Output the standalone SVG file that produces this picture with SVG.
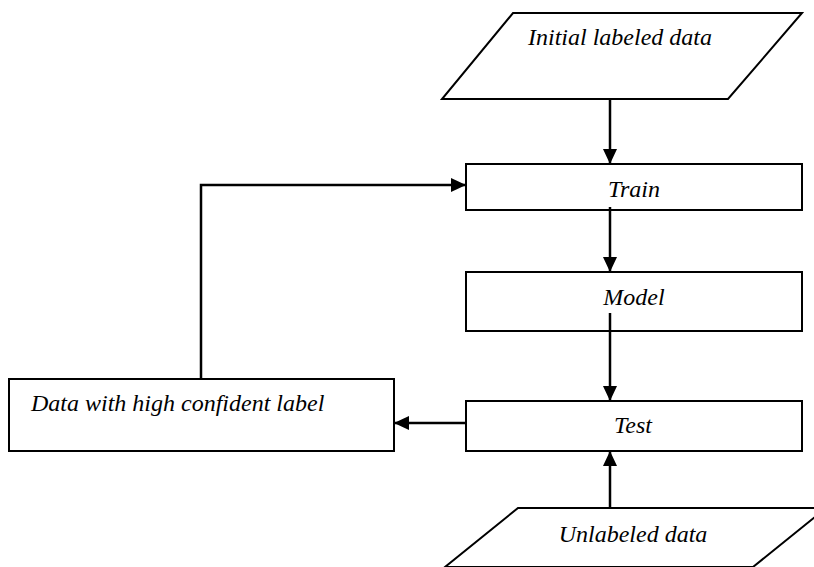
<svg xmlns="http://www.w3.org/2000/svg" width="814" height="567" viewBox="0 0 814 567">
<style>
.box{fill:#fff;stroke:#000;stroke-width:2}
.lbl{font-family:"Liberation Serif","Times New Roman",serif;font-style:italic;font-size:24px;fill:#000}
.c{text-anchor:middle}
.conn{fill:none;stroke:#000;stroke-width:2.5}
</style>
<defs>
<marker id="ah" markerUnits="userSpaceOnUse" markerWidth="16" markerHeight="14" refX="15" refY="7" orient="auto">
<path d="M0,0 L15,7 L0,14 z" fill="#000"/>
</marker>
</defs>
<rect width="814" height="567" fill="#fff"/>
<g id="initial">
<polygon class="box" points="513,13 802,13 728,99 442,99"/>
<text class="lbl c" x="620" y="45">Initial labeled data</text>
</g>
<g id="train">
<rect class="box" x="466" y="164" width="336" height="46"/>
<text class="lbl c" x="634" y="197">Train</text>
</g>
<g id="model">
<rect class="box" x="466" y="272" width="336" height="59"/>
<text class="lbl c" x="634" y="305">Model</text>
</g>
<g id="test">
<rect class="box" x="466" y="401" width="336" height="50"/>
<text class="lbl c" x="633" y="433">Test</text>
</g>
<g id="unlabeled">
<polygon class="box" points="518,508 826,508 753,567 445,567"/>
<text class="lbl c" x="633" y="542">Unlabeled data</text>
</g>
<g id="highconf">
<rect class="box" x="9" y="379" width="385" height="72"/>
<text class="lbl" x="31" y="411">Data with high confident label</text>
</g>
<g id="connectors">
<line class="conn" x1="610" y1="99" x2="610" y2="164" marker-end="url(#ah)"/>
<line class="conn" x1="610" y1="207" x2="610" y2="272" marker-end="url(#ah)"/>
<line class="conn" x1="610" y1="313" x2="610" y2="401" marker-end="url(#ah)"/>
<line class="conn" x1="610" y1="508" x2="610" y2="451" marker-end="url(#ah)"/>
<line class="conn" x1="466" y1="423" x2="394" y2="423" marker-end="url(#ah)"/>
<polyline class="conn" points="201,379 201,185 466,185" marker-end="url(#ah)"/>
</g>
</svg>
